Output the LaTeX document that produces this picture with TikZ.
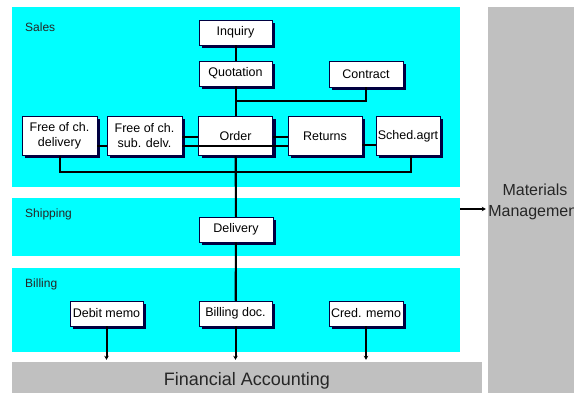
\documentclass[tikz,border=0pt]{standalone}
\usepackage{fontspec}
\setmainfont{Liberation Sans}
\usetikzlibrary{arrows.meta}
\definecolor{cyanbg}{HTML}{00FFFF}
\definecolor{graybg}{HTML}{C0C0C0}
\definecolor{shadowc}{HTML}{000040}
\newcommand\docnode[6]{%
  \node[shadowbox,minimum width=#4pt,minimum height=#5pt] (#1sh) at ({#2+3},{#3+3}) {};
  \node[docbox,minimum width=#4pt,minimum height=#5pt] (#1) at (#2,#3) {#6};}
\begin{document}
\begin{tikzpicture}[x=1pt,y=-1pt,
  panel/.style={draw=none,fill=cyanbg,inner sep=0pt},
  graypanel/.style={draw=none,fill=graybg,inner sep=0pt},
  shadowbox/.style={draw=none,fill=shadowc,inner sep=0pt,outer sep=0pt},
  docbox/.style={draw=shadowc,line width=0.7pt,fill=white,inner sep=0pt,align=center,
     font=\fontsize{12.5}{15}\selectfont},
  conn/.style={line width=2pt,draw=black},
  arr/.style={conn,-{Stealth[length=4pt,width=4.5pt]},shorten >=2pt},
  lbl/.style={anchor=west,inner sep=0pt,font=\fontsize{12}{14}\selectfont,text=black!85}
]
\useasboundingbox (0,0) rectangle (574,393);
\clip (0,0) rectangle (574,393);
\fill[white] (0,0) rectangle (574,393);
% panels
\node[panel,minimum width=448pt,minimum height=180pt] (sales) at (236,97) {};
\node[panel,minimum width=448pt,minimum height=58pt] (ship) at (236,227) {};
\node[panel,minimum width=448pt,minimum height=84pt] (bill) at (236,310) {};
\node[graypanel,minimum width=470pt,minimum height=34pt] (fa) at (247,379) {};
\node[graypanel,minimum width=112pt,minimum height=390pt] (mm) at (544,202) {};
\node[inner sep=0pt,font=\fontsize{18}{20}\selectfont,text=black!85] (fatxt) at (247,381) {Financial Accounting};
\node[inner sep=0pt,align=center,font=\fontsize{16}{21}\selectfont,text=black!85] (mmtxt) at (535,202) {Materials\\Management};
\node[lbl] (lsales) at (25,27) {Sales};
\node[lbl] (lship) at (25,214) {Shipping};
\node[lbl] (lbill) at (25,284) {Billing};
% coordinates
\coordinate (yq) at (0,101);
\coordinate (ya) at (0,137);
\coordinate (yb) at (0,146);
\coordinate (yc) at (0,145);
\coordinate (yd) at (0,172);
\coordinate (ye) at (0,209);
% trunk connectors behind boxes
\coordinate (t1) at (235.5,45);
\coordinate (t2) at (235.5,117);
\coordinate (t3) at (235.5,155);
\coordinate (t4) at (235.5,301);
\draw[conn] (t1) -- (t2);
\draw[conn] (t3) -- (t4);
% boxes
\docnode{inq}{235.5}{32.5}{73}{25}{Inquiry}
\docnode{quo}{235.5}{73.5}{73}{25}{Quotation}
\docnode{con}{366}{74}{74}{26}{Contract}
\docnode{ord}{235.5}{136}{74}{39}{Order}
\docnode{foc}{59.5}{136}{75}{39}{Free of ch.\\delivery}
\docnode{sub}{144.5}{136}{75}{39}{Free of ch.\\sub. delv.}
\docnode{ret}{325}{136}{74}{39}{Returns}
\docnode{sch}{408}{136}{64}{39}{Sched.agrt}
\docnode{del}{236}{229.5}{74}{25}{Delivery}
\docnode{deb}{106.5}{313.5}{73}{25}{Debit memo}
\docnode{bdoc}{235.5}{313.5}{73}{25}{Billing doc.}
\docnode{cred}{366}{313.5}{74}{25}{Cred. memo}
% connectors
\draw[conn] (inq.south) -- (quo.north);
\draw[conn] (quo.south) -- (ord.north);
\draw[conn] (quo.south |- yq) -| (con.south);
\draw[conn] (foc.east |- yb) -- (sub.west |- yb);
\draw[conn] (sub.east |- ya) -- (ord.west |- ya);
\draw[conn] (ord.east |- ya) -- (ret.west |- ya);
\draw[conn] (sub.east |- yb) -- (ret.west |- yb);
\draw[conn] (ret.east |- yc) -- (sch.west |- yc);
\draw[conn] (foc.south) -- (foc.south |- yd) -| ([xshift=3pt]sch.south);
\draw[conn] (ord.south) -- (del.north);
\draw[conn] (del.south) -- (bdoc.north);
\draw[arr] (bdoc.south) -- (bdoc.south |- fa.north);
\draw[arr] (deb.south) -- (deb.south |- fa.north);
\draw[arr] (cred.south) -- (cred.south |- fa.north);
\draw[arr] (ship.east |- ye) -- (mm.west |- ye);
\end{tikzpicture}
\end{document}
